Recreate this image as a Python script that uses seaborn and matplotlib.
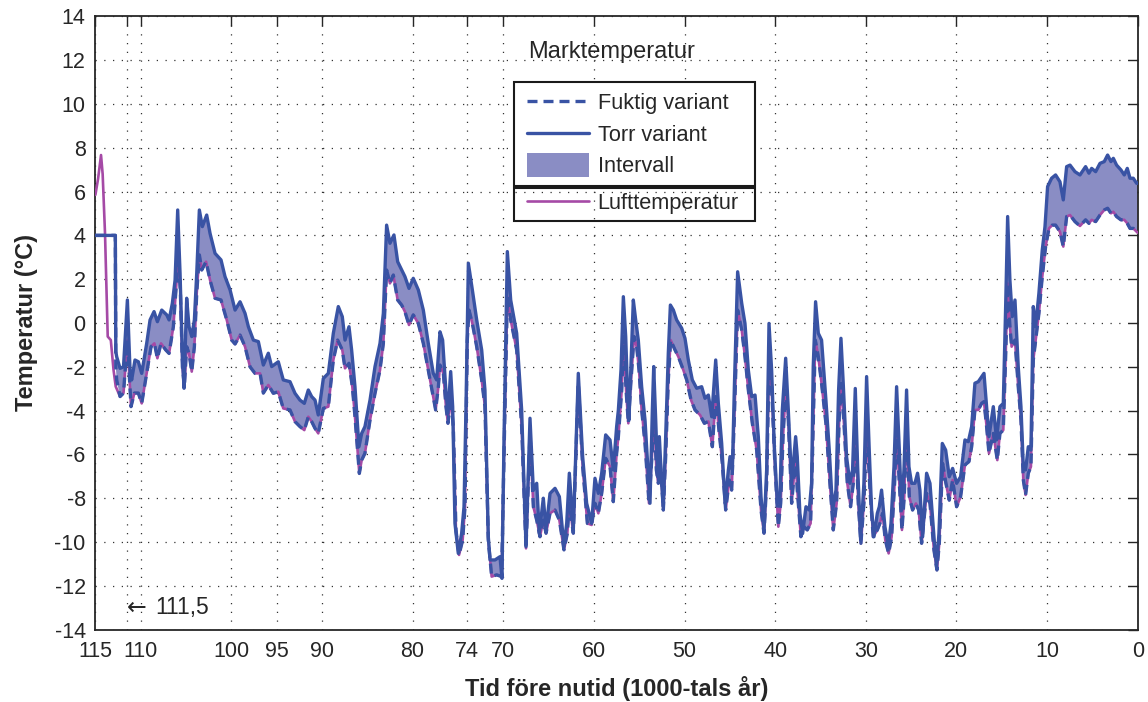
import numpy as np
import matplotlib
matplotlib.use("Agg")
import matplotlib.pyplot as plt
import seaborn as sns
from matplotlib.lines import Line2D
from matplotlib.patches import Patch, Rectangle
from matplotlib.legend_handler import HandlerPatch

# ---------------- data ----------------
torr_x = [115.0, 112.8, 112.75, 112.65, 112.28, 111.9, 111.47, 111.18, 111.0, 110.63, 110.26, 109.89,
          109.34, 108.97, 108.53, 108.16, 107.68, 107.13, 106.87, 106.51, 106.21, 105.92, 105.66, 105.4,
          105.22, 104.93, 104.67, 104.37, 104.08, 103.82, 103.53, 103.2, 102.72, 102.35, 101.8, 101.14,
          100.7, 100.14, 99.59, 99.04, 98.49, 98.12, 97.57, 97.02, 96.47, 95.92, 95.55, 94.82, 94.27,
          93.53, 92.98, 92.43, 91.95, 91.51, 91.14, 90.77, 90.41, 89.85, 89.3, 88.75, 88.2, 87.76, 87.46,
          87.02, 86.73, 86.36, 85.92, 85.62, 85.26, 84.7, 84.15, 83.6, 83.23, 82.87, 82.5, 82.06, 81.65,
          81.21, 80.85, 80.4, 79.93, 79.37, 78.82, 78.27, 77.72, 77.35, 76.98, 76.69, 76.32, 76.1, 75.8,
          75.58, 75.33, 74.96, 74.59, 74.33, 74.11, 73.85, 73.41, 72.93, 72.38, 72.02, 71.65, 71.46,
          70.91, 70.36, 70.14, 69.92, 69.55, 69.18, 68.52, 67.97, 67.49, 67.05, 66.68, 66.31, 66.02,
          65.58, 65.28, 64.84, 64.29, 63.81, 63.3, 63.0, 62.71, 62.27, 61.72, 61.24, 60.8, 60.25, 59.88,
          59.51, 59.14, 58.7, 58.22, 57.86, 57.49, 57.3, 57.01, 56.75, 56.49, 56.27, 56.13, 55.9, 55.65,
          55.39, 55.1, 54.73, 54.36, 53.99, 53.81, 53.55, 53.4, 53.18, 52.96, 52.78, 52.52, 52.34, 52.08,
          51.79, 51.56, 51.23, 50.87, 50.31, 49.95, 49.58, 49.14, 48.66, 48.11, 47.74, 47.37, 47.0,
          46.56, 46.27, 45.9, 45.53, 45.16, 44.98, 44.72, 44.5, 44.14, 43.69, 43.33, 42.96, 42.59, 42.22,
          41.86, 41.56, 41.23, 40.94, 40.68, 40.39, 40.09, 39.76, 39.47, 39.21, 38.84, 38.55, 38.18,
          37.74, 37.56, 37.27, 36.97, 36.6, 36.24, 35.98, 35.8, 35.54, 35.24, 34.88, 34.4, 34.03, 33.66,
          33.29, 33.0, 32.74, 32.49, 32.12, 31.75, 31.46, 31.16, 30.9, 30.57, 30.21, 29.91, 29.62, 29.36,
          29.1, 28.73, 28.51, 28.26, 27.89, 27.52, 27.22, 26.89, 26.6, 26.3, 26.05, 25.79, 25.5, 25.24,
          24.95, 24.58, 24.29, 24.03, 23.73, 23.29, 22.92, 22.45, 22.19, 21.93, 21.56, 21.19, 20.79,
          20.42, 19.98, 19.54, 19.06, 18.69, 18.32, 17.96, 17.59, 16.96, 16.67, 16.41, 15.93, 15.57,
          15.2, 14.83, 14.57, 14.35, 14.1, 13.84, 13.54, 13.18, 12.88, 12.62, 12.37, 12.07, 11.78, 11.52,
          11.26, 10.9, 10.53, 10.23, 9.94, 9.5, 9.06, 8.58, 8.21, 7.84, 7.47, 6.92, 6.37, 5.75, 5.38,
          5.08, 4.64, 4.16, 3.69, 3.32, 2.95, 2.69, 2.33, 1.85, 1.48, 1.15, 0.85, 0.49, 0.12, 0.0]
torr_y = [4.0, 4.0, -1.3, -1.54, -2.07, -2.0, 1.05, -2.15, -2.6, -1.69, -1.77, -2.3,
          -0.93, 0.14, 0.52, 0.06, 0.59, 0.37, 0.14, 0.9, 1.96, 5.16, 2.27, -1.54,
          -2.98, 1.13, -0.17, -0.62, 0.14, 2.27, 5.16, 4.4, 4.93, 4.09, 3.18, 2.88,
          2.12, 1.51, 0.59, 0.97, 0.44, -0.17, -0.78, -0.85, -1.92, -1.38, -1.99, -1.77, -2.6,
          -2.68, -3.21, -3.52, -3.67, -3.06, -3.36, -3.52, -4.2, -2.53, -2.3, -0.47, 0.75, 0.29, -0.78,
          -0.17, -1.23, -2.91, -5.65, -5.04, -4.73, -3.52, -1.99, -0.93, 0.44, 4.47, 3.64, 4.02, 2.8,
          2.42, 2.12, 1.58, 2.04, 1.51, 0.59, -0.93, -2.3, -2.6, -0.40, -0.78, -3.14, -4.12, -2.22,
          -3.82, -9.15, -10.52, -9.6, -8.39, -3.82, 2.73, 1.51, 0.14, -1.23, -3.06, -9.76, -10.82,
          -10.82, -10.67, -11.66, -5.34, 3.26, 1.05, -0.47, -3.97, -10.21, -4.35, -7.63, -7.32, -9.6,
          -8.0, -9.45, -7.78, -7.55, -7.93, -10.21, -9.15, -6.86, -9.45, -2.3, -6.1, -8.23, -9.15, -7.09,
          -7.78, -6.86, -5.11, -5.34, -6.71, -4.73, -3.97, -2.15, 1.2, -0.62, -3.36, -4.43, -1.84, 1.05,
          0.14, -0.78, -2.91, -4.43, -7.02, -8.23, -3.97, -1.99, -4.43, -7.02, -5.19, -7.32, -8.39, -5.19,
          -1.38, 0.82, 0.59, 0.14, -0.24, -0.7, -1.69, -2.6, -2.98, -2.91, -3.44, -3.29, -4.28,
          -1.69, -3.67, -5.5, -8.23, -6.71, -6.1, -6.71, -2.91, 2.34, 0.9, -0.02, -2.15, -3.36, -3.29,
          -5.19, -7.93, -9.45, -6.71, -0.02, -2.15, -5.65, -8.23, -7.93, -3.97, -1.61, -3.97, -7.32,
          -5.19, -6.1, -8.69, -9.61, -8.39, -8.54, -7.32, -2.0, 0.97, -0.47, -0.78, -3.52, -5.8, -8.54,
          -7.63, -3.06, -0.7, -2.75, -6.11, -7.32, -6.71, -2.99, -6.56, -9.91, -7.32, -2.45, -5.8, -8.54,
          -9.76, -8.69, -8.39, -7.63, -9.3, -10.21, -9.15, -6.56, -2.91, -5.8, -8.54, -6.71, -3.06, -6.56,
          -7.32, -7.32, -6.86, -7.63, -9.76, -6.86, -7.32, -9.91, -11.13, -9.61, -5.5, -5.8, -7.02,
          -6.64, -7.32, -7.02, -5.34, -5.42, -4.73, -2.75, -2.68, -2.3, -3.82, -5.19, -3.82, -5.34,
          -3.82, -3.67, 0.75, 4.86, 1.96, 0.29, 1.05, -2.0, -3.82, -6.56, -6.71, -5.65, -5.8, 0.75,
          -0.17, 1.36, 3.33, 4.4, 6.23, 6.61, 6.76, 6.45, 5.62, 7.14, 7.21, 6.91, 6.76, 7.14, 6.84,
          7.06, 6.91, 7.29, 7.37, 7.67, 7.37, 7.52, 7.21, 6.99, 6.76, 7.06, 6.61, 6.61, 6.38, 6.38]

fuktig_x = [115.0, 112.8, 112.75, 112.65, 112.28, 111.9, 111.47, 111.07, 110.7, 110.26, 109.89, 109.34,
            108.86, 108.49, 108.16, 107.76, 107.24, 106.87, 106.4, 106.03, 105.85, 105.63, 105.4, 105.18,
            104.93, 104.67, 104.37, 104.08, 103.82, 103.53, 103.27, 102.79, 102.35, 101.8, 101.14, 100.51,
            99.96, 99.59, 99.04, 98.49, 97.94, 97.39, 96.83, 96.47, 95.92, 95.37, 94.82, 94.27, 93.53,
            92.98, 92.43, 91.95, 91.51, 91.14, 90.77, 90.41, 89.85, 89.3, 88.75, 88.27, 87.76, 87.46,
            87.02, 86.65, 86.36, 85.88, 85.62, 85.26, 84.7, 84.15, 83.6, 83.23, 82.87, 82.5, 82.13, 81.65,
            81.21, 80.85, 80.4, 79.93, 79.37, 78.82, 78.27, 77.72, 77.46, 77.16, 76.98, 76.61, 76.32,
            76.1, 75.8, 75.51, 75.22, 74.88, 74.48, 74.22, 73.97, 73.78, 73.41, 72.93, 72.38, 72.02,
            71.65, 71.28, 70.73, 70.18, 69.92, 69.55, 69.18, 68.52, 67.97, 67.49, 67.05, 66.68, 66.31,
            65.95, 65.58, 65.28, 64.84, 64.29, 63.81, 63.3, 62.93, 62.71, 62.27, 61.72, 61.24, 60.72,
            60.25, 59.88, 59.51, 59.14, 58.7, 58.22, 57.86, 57.49, 57.3, 56.93, 56.71, 56.45, 56.2, 55.9,
            55.57, 55.28, 55.02, 54.73, 54.36, 53.92, 53.55, 53.37, 53.11, 52.89, 52.71, 52.34, 52.08,
            51.79, 51.53, 51.05, 50.68, 50.13, 49.76, 49.28, 48.84, 48.29, 47.81, 47.37, 46.93, 46.56,
            46.2, 45.83, 45.46, 45.06, 44.8, 44.5, 44.14, 43.69, 43.33, 42.96, 42.52, 42.04, 41.56, 41.23,
            40.94, 40.68, 40.39, 40.02, 39.65, 39.39, 39.13, 38.84, 38.55, 38.18, 37.74, 37.56, 37.16,
            36.83, 36.46, 36.09, 35.87, 35.57, 35.24, 34.88, 34.4, 33.96, 33.59, 33.22, 32.93, 32.71,
            32.41, 32.04, 31.68, 31.38, 31.12, 30.83, 30.54, 30.21, 29.91, 29.54, 29.18, 28.73, 28.44,
            28.15, 27.85, 27.48, 27.15, 26.82, 26.6, 26.3, 26.01, 25.76, 25.5, 25.2, 24.84, 24.47, 24.17,
            23.84, 23.29, 22.92, 22.48, 22.15, 21.89, 21.53, 21.16, 20.79, 20.42, 19.98, 19.54, 19.06,
            18.62, 18.32, 17.96, 17.59, 17.22, 16.96, 16.67, 16.41, 15.93, 15.49, 15.2, 14.83, 14.57,
            14.35, 14.1, 13.91, 13.54, 13.18, 12.88, 12.62, 12.37, 12.07, 11.78, 11.52, 11.26, 10.9,
            10.53, 10.16, 9.79, 9.42, 9.06, 8.58, 8.21, 7.84, 7.47, 6.92, 6.37, 5.75, 5.38, 5.08, 4.64,
            4.16, 3.69, 3.32, 2.95, 2.69, 2.33, 1.85, 1.48, 1.15, 0.85, 0.49, 0.12, 0.0]
fuktig_y = [4.0, 4.0, -2.0, -2.6, -3.36, -3.2, -0.78, -3.82, -3.2, -3.2, -3.67, -2.3,
            -1.08, -0.93, -1.61, -0.93, -1.23, -1.39, -0.17, 1.96, 3.03, 1.51, -2.0, -2.9,
            -1.08, -1.39, -2.22, -1.08, 1.36, 3.11, 2.42, 2.8, 1.96, 1.13, 1.05, 0.14,
            -0.78, -0.96, -0.55, -1.08, -2.0, -2.3, -2.3, -3.2, -2.83, -3.21, -3.14, -3.9, -3.97,
            -4.5, -4.73, -4.89, -4.28, -4.5, -4.81, -5.04, -3.9, -3.82, -1.69, -0.78, -1.23, -2.07,
            -1.84, -2.91, -4.28, -6.87, -6.26, -5.95, -4.43, -3.21, -2.15, -0.93, 2.42, 1.81, 2.19, 1.05,
            0.82, 0.52, -0.09, 0.37, -0.02, -0.93, -2.15, -3.36, -3.97, -2.91, -1.92, -2.3, -3.82,
            -4.58, -3.36, -4.73, -9.45, -10.59, -9.91, -8.39, -0.78, 0.59, -0.02, -1.08, -2.6, -3.82,
            -9.91, -11.58, -11.5, -11.58, -6.1, 1.2, 0.14, -1.23, -4.73, -10.29, -5.04, -8.39, -9.0,
            -9.76, -9.0, -9.6, -8.69, -8.54, -9.0, -10.36, -9.6, -8.23, -9.6, -2.75, -6.56, -9.15,
            -9.22, -8.23, -8.69, -7.78, -6.18, -6.56, -8.16, -5.95, -5.19, -3.06, -0.62, -3.06, -4.58, -2.6,
            -0.62, -1.08, -2.15, -3.97, -5.5, -8.23, -5.8, -3.67, -6.71, -7.32, -6.1, -8.54, -6.1,
            -2.6, -0.78, -1.23, -1.54, -2.15, -2.6, -3.52, -3.97, -4.2, -4.58, -4.5, -5.65, -3.36,
            -4.89, -6.41, -8.54, -7.17, -7.63, -4.28, 0.59, -0.32, -1.54, -3.06, -4.58, -5.8, -8.54, -9.6,
            -7.32, -1.99, -2.91, -6.56, -9.3, -8.23, -5.19, -3.06, -4.43, -8.23, -6.1, -7.63, -9.76,
            -9.3, -9.45, -9.15, -5.8, -0.78, -1.54, -2.76, -4.58, -7.32, -9.45, -8.24, -4.28, -2.76,
            -4.58, -7.32, -8.39, -7.32, -4.89, -8.24, -10.06, -8.24, -4.58, -7.63, -9.76, -9.45, -9.15,
            -8.69, -9.91, -10.52, -9.76, -7.32, -4.89, -7.32, -9.45, -7.93, -4.73, -7.93, -8.54, -8.24, -8.54,
            -10.06, -7.78, -8.24, -10.37, -11.28, -10.06, -6.41, -7.32, -8.09, -7.17, -8.39, -7.93, -6.48,
            -6.33, -5.65, -3.97, -3.97, -3.67, -3.59, -4.73, -5.95, -5.04, -6.26, -5.04, -4.89, -1.54,
            1.81, -0.17, -1.08, -0.78, -2.91, -4.43, -7.17, -7.85, -6.86, -6.56, -1.69, -0.78, 0.44,
            2.11, 3.49, 4.32, 4.47, 4.47, 4.17, 3.49, 4.86, 4.93, 4.63, 4.43, 4.71, 4.55, 4.71, 4.63,
            4.93, 5.16, 5.24, 5.01, 5.08, 4.86, 4.71, 4.71, 4.55, 4.32, 4.32, 4.17, 4.12]

# Lufttemperatur: own values before the model start, then equal to "Fuktig variant"
luft_head_x = [115.0, 114.7, 114.38, 114.2, 113.94, 113.75, 113.64, 113.3, 113.0, 112.76]
luft_head_y = [5.85, 6.6, 7.67, 6.8, 4.1, 1.0, -0.62, -0.78, -2.14, -2.9]

x_ticks = [115, 111.5, 110, 100, 95, 90, 80, 74, 70, 60, 50, 40, 30, 20, 10, 0]
x_ticklabels = ["115", "", "110", "100", "95", "90", "80", "74", "70", "60", "50", "40",
                "30", "20", "10", "0"]
y_ticks = list(range(-14, 15, 2))
legend_labels = ["Fuktig variant", "Torr variant", "Intervall"]

# ---------------- style ----------------
sns.set_theme(style="white")
plt.rcParams["font.family"] = ["Liberation Sans", "DejaVu Sans"]
plt.rcParams["axes.unicode_minus"] = False

BLUE = "#3953a4"
FILL = "#8a8dc4"
PURPLE = "#a54aa6"
W, H = 1148, 702

fig = plt.figure(figsize=(W / 100, H / 100), dpi=100)
ax = fig.add_axes([95.4 / W, 1 - 629.6 / H, (1137.7 - 95.4) / W, (629.6 - 16.4) / H])

tx, ty = np.array(torr_x), np.array(torr_y)
fx, fy = np.array(fuktig_x), np.array(fuktig_y)
ax.fill(np.concatenate([tx, fx[::-1]]), np.concatenate([ty, fy[::-1]]),
        color=FILL, lw=0, zorder=2)

mask = fx <= 112.3
luft_x = np.concatenate([luft_head_x, fx[mask]])
luft_y = np.concatenate([luft_head_y, fy[mask]])

sns.lineplot(x=luft_x, y=luft_y, sort=False, estimator=None, ax=ax,
             color=PURPLE, linewidth=1.9, zorder=3)
ax.lines[-1].set_solid_joinstyle("round")
sns.lineplot(x=fx, y=fy, sort=False, estimator=None, ax=ax,
             color=BLUE, linewidth=2.4, zorder=4)
ax.lines[-1].set_linestyle((0, (3.0, 1.8)))
ax.lines[-1].set_dash_joinstyle("round")
sns.lineplot(x=tx, y=ty, sort=False, estimator=None, ax=ax,
             color=BLUE, linewidth=2.4, zorder=5)
ax.lines[-1].set_solid_joinstyle("round")

ax.set_xlim(115, 0)
ax.set_ylim(-14, 14)
ax.set_xticks(x_ticks)
ax.set_xticklabels(x_ticklabels)
ax.set_yticks(y_ticks)
ax.tick_params(direction="in", length=7, width=1.0, colors="#262626",
               top=True, right=True, labelsize=15.5, pad=8)
ax.tick_params(axis="y", pad=7)
ax.grid(True, color="#333333", linestyle=(0, (1, 6)), linewidth=0.9)
for s in ax.spines.values():
    s.set_color("#262626")
    s.set_linewidth(1.3)

ax.set_xlabel("Tid före nutid (1000-tals år)", fontsize=17, fontweight="bold", labelpad=10)
ax.set_ylabel("Temperatur (°C)", fontsize=17, fontweight="bold", labelpad=12)

ax.text(111.5, -13.0, "←", fontsize=17, ha="left", va="center", family="DejaVu Sans")
ax.text(108.4, -13.0, "111,5", fontsize=16.5, ha="left", va="center")

# ---------------- legend ----------------
def tall_rect(legend, orig_handle, xdescent, ydescent, width, height, fontsize):
    return Rectangle((-xdescent, -ydescent - 0.3 * height), width, 1.6 * height)

h_fukt = Line2D([], [], color=BLUE, lw=2.4, linestyle=(0, (3.0, 1.8)))
h_torr = Line2D([], [], color=BLUE, lw=2.4)
h_int = Patch(facecolor=FILL, edgecolor="none")
h_luft = Line2D([], [], color=PURPLE, lw=1.9)

# frames
fig.patches.append(Rectangle((514 / W, 1 - 186 / H), (755 - 514) / W, (186 - 82) / H,
                             transform=fig.transFigure, facecolor="white",
                             edgecolor="#1a1a1a", lw=1.5, zorder=6))
fig.patches.append(Rectangle((514 / W, 1 - 221 / H), (755 - 514) / W, (221 - 188) / H,
                             transform=fig.transFigure, facecolor="none",
                             edgecolor="#1a1a1a", lw=1.5, zorder=6))

LEG_FS = 15.7
leg1 = fig.legend([h_fukt, h_torr, h_int], legend_labels, loc="upper left",
                  bbox_to_anchor=(514 / W, 1 - 80 / H), bbox_transform=fig.transFigure,
                  frameon=False, fontsize=LEG_FS, borderaxespad=0, borderpad=0.58,
                  handlelength=2.85, handletextpad=0.4, labelspacing=0.5,
                  handler_map={Patch: HandlerPatch(patch_func=tall_rect)})
leg1.set_zorder(10)
leg2 = fig.legend([h_luft], ["Lufttemperatur"], loc="upper left",
                  bbox_to_anchor=(514 / W, 1 - 180 / H), bbox_transform=fig.transFigure,
                  frameon=False, fontsize=LEG_FS, borderaxespad=0, borderpad=0.58,
                  handlelength=2.85, handletextpad=0.4)
leg2.set_zorder(10)

fig.text(612 / W, 1 - 52 / H, "Marktemperatur", fontsize=17, ha="center", va="center")

fig.savefig("out.png", dpi=100)
